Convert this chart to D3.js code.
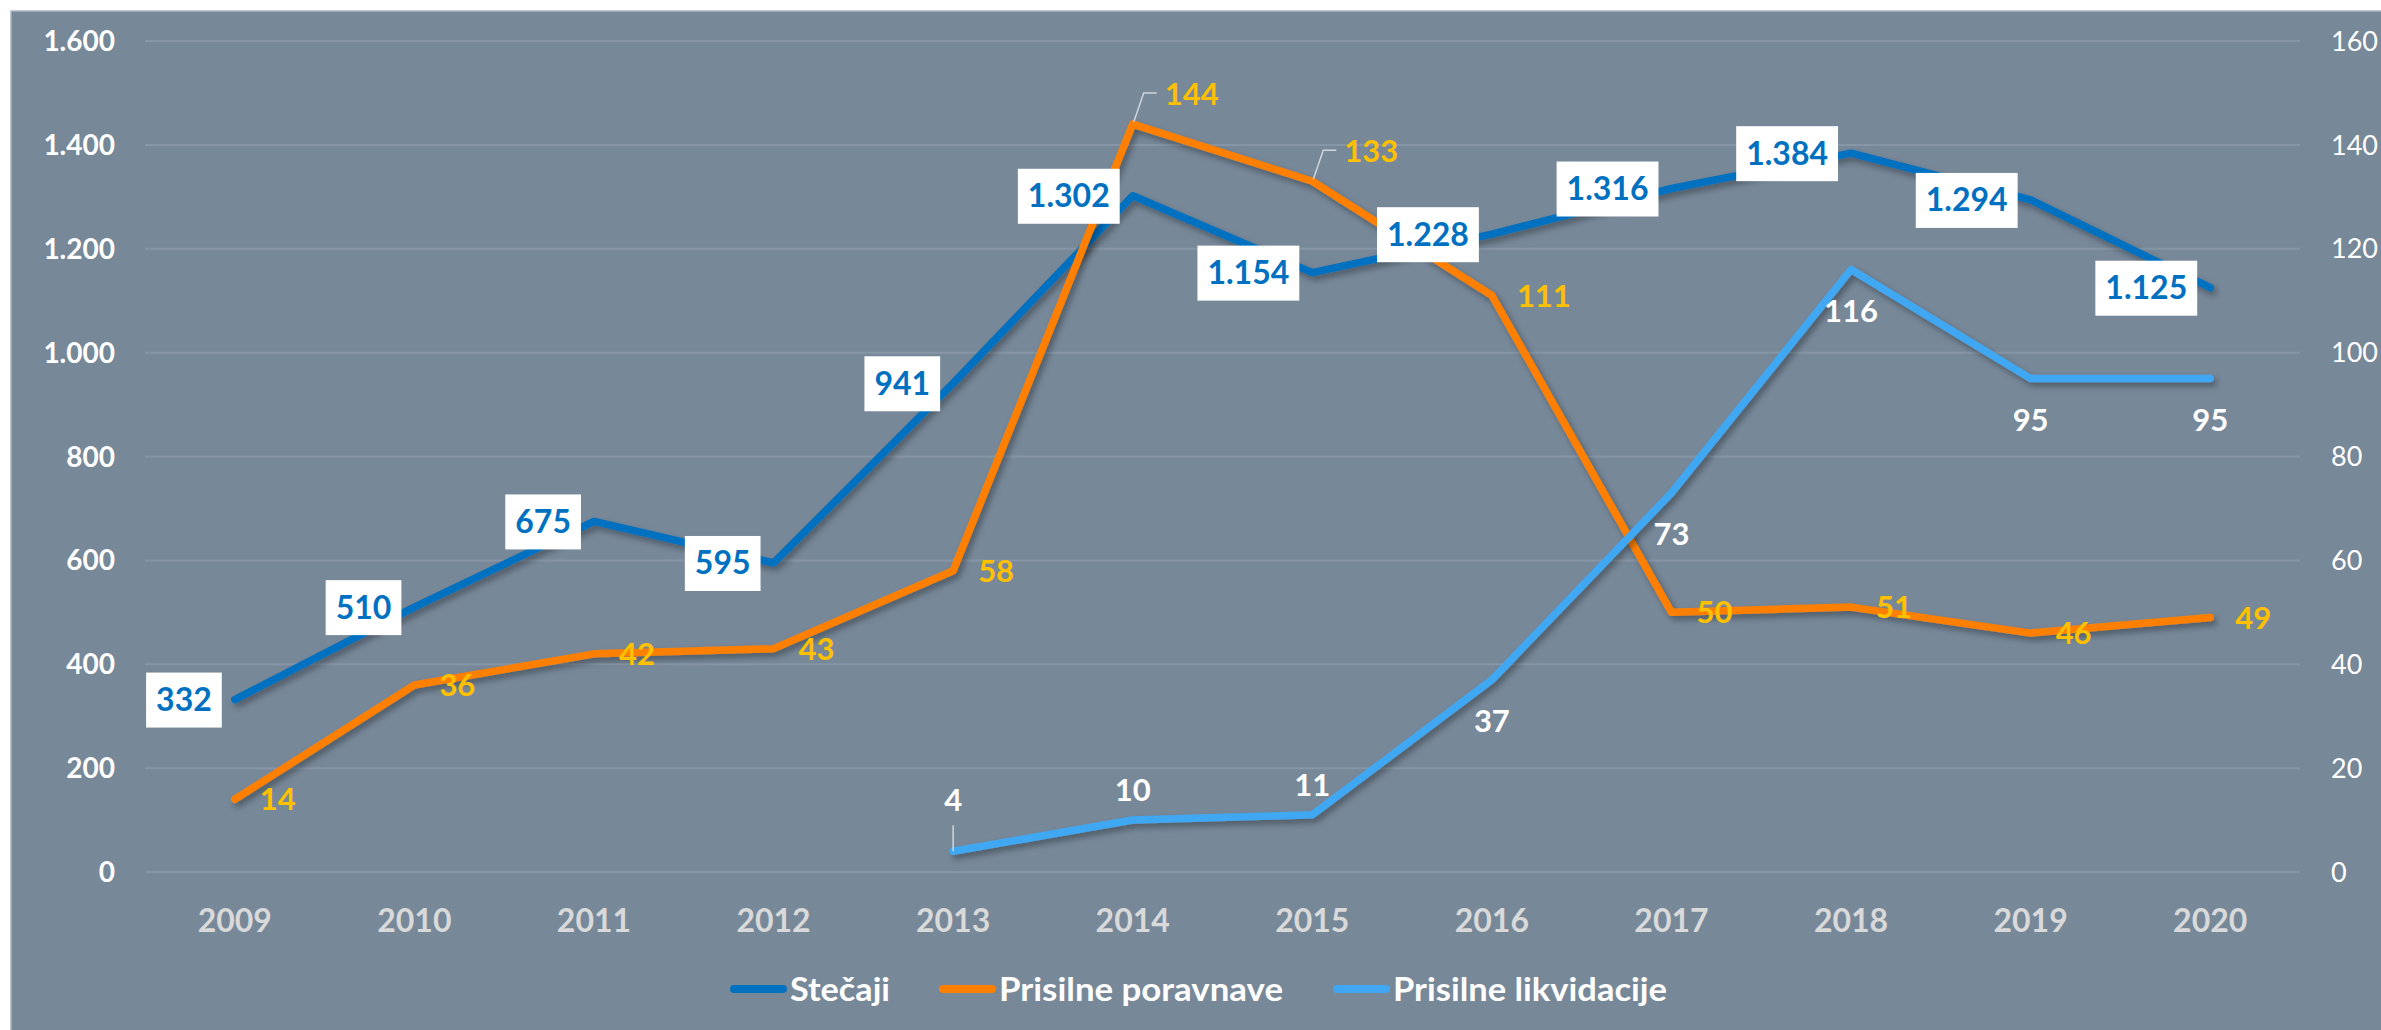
<!DOCTYPE html>
<html>
<head>
<meta charset="utf-8">
<script src="https://cdn.jsdelivr.net/npm/d3@7"></script>
<style>
  html, body { margin: 0; padding: 0; background: #fff; }
  svg { display: block; font-family: Lato, "Open Sans", sans-serif; }
</style>
</head>
<body>
<div id="app"></div>
<script>
// data
const years = ['2009','2010','2011','2012','2013','2014','2015','2016','2017','2018','2019','2020']
const stecaji = [332, 510, 675, 595, 941, 1302, 1154, 1228, 1316, 1384, 1294, 1125]
const poravnave = [14, 36, 42, 43, 58, 144, 133, 111, 50, 51, 46, 49]
const likvidacije = [null, null, null, null, 4, 10, 11, 37, 73, 116, 95, 95]
const leftTicks = [0, 200, 400, 600, 800, 1000, 1200, 1400, 1600]
const rightTicks = [0, 20, 40, 60, 80, 100, 120, 140, 160]
const seriesNames = ['Stečaji', 'Prisilne poravnave', 'Prisilne likvidacije']

// label placement (per point)
const porPos = ['r','r','r','r','r','ar','ar','r','r','r','r','r']
const likPos = [null,null,null,null,'lead','a','a','b','b','b','b','b']

const W = 2381, H = 1030
const colBlue = '#0070c0', colOrange = '#ff8000', colLight = '#41a7f2'

const svg = d3.select('#app').append('svg').attr('width', W).attr('height', H)

const defs = svg.append('defs')
const f = defs.append('filter').attr('id','shadow').attr('x','-10%').attr('y','-10%').attr('width','130%').attr('height','130%')
f.append('feDropShadow').attr('dx',3).attr('dy',4).attr('stdDeviation',3).attr('flood-color','#000').attr('flood-opacity',0.35)

svg.append('rect').attr('x',11).attr('y',11).attr('width',W).attr('height',H)
  .attr('fill','#778899').attr('stroke','#aab5c0').attr('stroke-width',1.5)

const x = d3.scaleBand().domain(years).range([145, 2300])
const yL = d3.scaleLinear().domain([0, 1600]).range([872, 41])
const yR = d3.scaleLinear().domain([0, 160]).range([872, 41])
const cx = d => x(d) + x.bandwidth() / 2

// gridlines
svg.append('g').selectAll('line').data(leftTicks).enter().append('line')
  .attr('x1', 145).attr('x2', 2300)
  .attr('y1', d => yL(d)).attr('y2', d => yL(d))
  .attr('stroke', '#8796a6').attr('stroke-width', 2)

// left axis
const fmt = d => d3.format(',')(d).replace(/,/g, '.')
svg.append('g').selectAll('text').data(leftTicks).enter().append('text')
  .attr('x', 115).attr('y', d => yL(d)).attr('dy', '0.36em')
  .attr('text-anchor', 'end').attr('fill', '#fff').attr('font-weight', 700).attr('font-size', 28)
  .text(fmt)

// right axis
svg.append('g').selectAll('text').data(rightTicks).enter().append('text')
  .attr('x', 2331).attr('y', d => yR(d)).attr('dy', '0.36em')
  .attr('fill', '#fff').attr('font-size', 27)
  .text(d => d)

// x axis labels
svg.append('g').selectAll('text').data(years).enter().append('text')
  .attr('x', cx).attr('y', 920).attr('dy', '0.36em')
  .attr('text-anchor', 'middle').attr('fill', '#d9d9d9').attr('font-weight', 700).attr('font-size', 32)
  .text(d => d)

// lines
function drawLine(vals, yScale, color) {
  const pts = years.map((yr, i) => ({ yr, v: vals[i] }))
  const line = d3.line().defined(d => d.v != null).x(d => cx(d.yr)).y(d => yScale(d.v))
  svg.append('path').datum(pts).attr('d', line)
    .attr('fill', 'none').attr('stroke', color).attr('stroke-width', 7.5)
    .attr('stroke-linejoin', 'round').attr('stroke-linecap', 'round')
    .attr('filter', 'url(#shadow)')
}
drawLine(stecaji, yL, colBlue)
drawLine(poravnave, yR, colOrange)
drawLine(likvidacije, yR, colLight)

// labels: Stečaji (white boxes, left of point)
const gS = svg.append('g')
years.forEach((yr, i) => {
  const px = cx(yr), py = yL(stecaji[i])
  const t = gS.append('text').attr('font-weight', 700).attr('font-size', 32).attr('fill', colBlue)
    .attr('text-anchor', 'end').attr('x', px - 23).attr('y', py).attr('dy', '0.36em').text(fmt(stecaji[i]))
  const bb = t.node().getBBox()
  gS.insert('rect', 'text').attr('x', bb.x - 10).attr('y', py - 27).attr('width', bb.width + 20).attr('height', 55).attr('fill', '#fff')
})

// labels: poravnave
const gP = svg.append('g')
years.forEach((yr, i) => {
  const px = cx(yr), py = yR(poravnave[i])
  const pos = porPos[i]
  if (pos === 'r') {
    gP.append('text').attr('x', px + 25).attr('y', py).attr('dy', '0.36em')
      .attr('fill', '#ffc000').attr('font-weight', 700).attr('font-size', 31).text(poravnave[i])
  } else {
    gP.append('path').attr('d', `M${px + 1},${py - 2}L${px + 11},${py - 31}L${px + 24},${py - 31}`)
      .attr('fill', 'none').attr('stroke', '#cfd5dc').attr('stroke-width', 1.5)
    gP.append('text').attr('x', px + 32).attr('y', py - 30).attr('dy', '0.36em')
      .attr('fill', '#ffc000').attr('font-weight', 700).attr('font-size', 31).text(poravnave[i])
  }
})

// labels: likvidacije
const gL = svg.append('g')
years.forEach((yr, i) => {
  if (likvidacije[i] == null) return
  const px = cx(yr), py = yR(likvidacije[i])
  const pos = likPos[i]
  let ty = py + 41
  if (pos === 'a') ty = py - 30
  if (pos === 'lead') {
    ty = py - 51
    gL.append('line').attr('x1', px).attr('x2', px).attr('y1', py - 26).attr('y2', py)
      .attr('stroke', '#cfd5dc').attr('stroke-width', 1.5)
  }
  gL.append('text').attr('x', px).attr('y', ty).attr('dy', '0.36em').attr('text-anchor', 'middle')
    .attr('fill', '#fff').attr('font-weight', 700).attr('font-size', 31).text(likvidacije[i])
})

// legend
const legend = svg.append('g')
const legCols = [colBlue, colOrange, colLight]
const legX = [730, 939, 1333]
const legW = [100, 284, 274]
seriesNames.forEach((name, i) => {
  const lx = legX[i]
  legend.append('line').attr('x1', lx + 4).attr('x2', lx + 53).attr('y1', 989).attr('y2', 989)
    .attr('stroke', legCols[i]).attr('stroke-width', 8).attr('stroke-linecap', 'round')
  legend.append('text').attr('x', lx + 60).attr('y', 989).attr('dy', '0.36em')
    .attr('fill', '#fff').attr('font-weight', 700).attr('font-size', 32)
    .attr('textLength', legW[i]).attr('lengthAdjust', 'spacingAndGlyphs').text(name)
})
</script>
</body>
</html>
